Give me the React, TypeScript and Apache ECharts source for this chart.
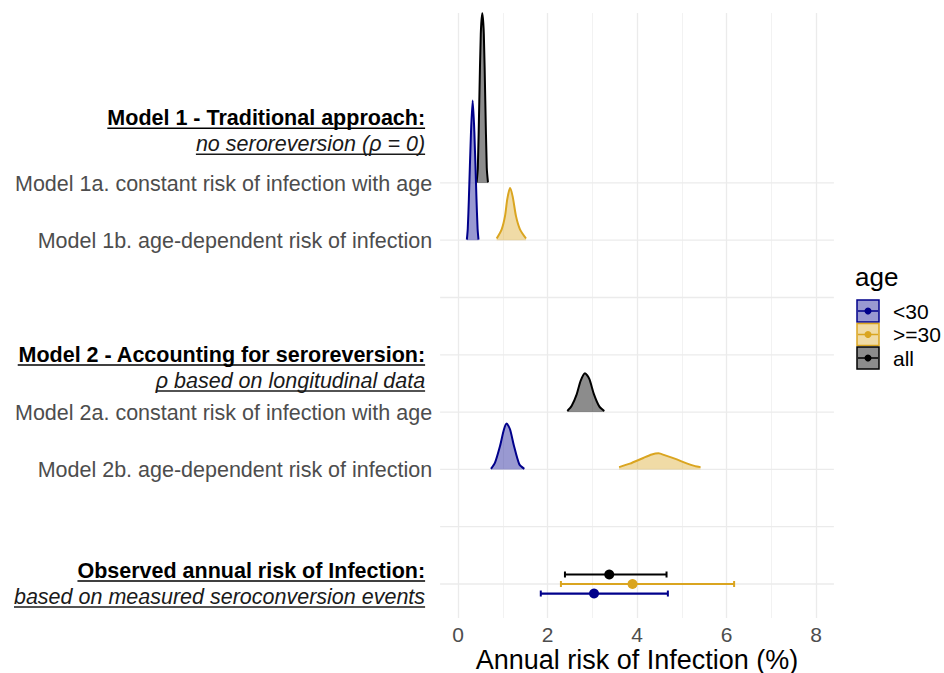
import React, { useEffect, useRef } from "react";
import * as echarts from "echarts";

const FONT = '"Liberation Sans", Arial, Helvetica, sans-serif';

// age groups (legend order)
const groups = ["<30", ">=30", "all"];
const groupStroke = ["#00008B", "#DAA520", "#000000"];
const groupFill = ["rgba(0,0,139,0.4)", "rgba(218,165,32,0.4)", "rgba(0,0,0,0.45)"];

// y categories (row 1 = bottom)
const gridRows = [1, 2, 3, 4, 5, 6, 7, 8];
const rowLabels = [
  "Model 1a. constant risk of infection with age",
  "Model 1b. age-dependent risk of infection",
  "Model 2a. constant risk of infection with age",
  "Model 2b. age-dependent risk of infection",
];
const rowPositions = [8, 7, 4, 3];

const headerTitles = [
  "Model 1 - Traditional approach:",
  "Model 2 - Accounting for seroreversion:",
  "Observed annual risk of Infection:",
];
const headerSubtitles = [
  "no seroreversion (\u03C1 = 0)",
  "\u03C1 based on longitudinal data",
  "based on measured seroconversion events",
];
const headerPositions = [8.9, 4.77, 1];

// posterior densities (x = annual risk %, h = ridge height in row units)
const m1aAllX = [0.416, 0.443, 0.476, 0.509, 0.543, 0.577, 0.61, 0.643, 0.67];
const m1aAllH = [0.01, 0.26, 1.43, 2.6, 2.96, 2.6, 1.43, 0.26, 0.01];

const m1bYoungX = [0.198, 0.218, 0.243, 0.29, 0.328, 0.366, 0.413, 0.438, 0.458];
const m1bYoungH = [0.01, 0.2, 0.72, 1.88, 2.44, 1.88, 0.72, 0.2, 0.01];

const m1bOldX = [0.865, 0.976, 1.05, 1.102, 1.162, 1.222, 1.296, 1.385, 1.52];
const m1bOldH = [0.03, 0.19, 0.42, 0.72, 0.91, 0.76, 0.42, 0.19, 0.03];

const m2aAllX = [2.443, 2.541, 2.652, 2.742, 2.838, 2.934, 3.039, 3.157, 3.269];
const m2aAllH = [0.02, 0.11, 0.31, 0.55, 0.68, 0.58, 0.31, 0.1, 0.02];

const m2bYoungX = [0.737, 0.827, 0.939, 1.028, 1.088, 1.162, 1.251, 1.37, 1.482];
const m2bYoungH = [0.01, 0.12, 0.41, 0.7, 0.8, 0.7, 0.41, 0.09, 0.01];

const m2bOldX = [3.6, 3.84, 4.14, 4.33, 4.48, 4.63, 4.89, 5.11, 5.3, 5.42];
const m2bOldH = [0.04, 0.1, 0.2, 0.26, 0.28, 0.245, 0.175, 0.105, 0.058, 0.04];

// observed annual risk (point estimate and interval), by group
const obsRow = 1;
const obsMid = [3.04, 3.9, 3.38];
const obsLow = [1.85, 2.3, 2.39];
const obsHigh = [4.69, 6.17, 4.66];

const densities = [
  { row: 8, g: 2, x: m1aAllX, h: m1aAllH },
  { row: 7, g: 0, x: m1bYoungX, h: m1bYoungH },
  { row: 7, g: 1, x: m1bOldX, h: m1bOldH },
  { row: 4, g: 2, x: m2aAllX, h: m2aAllH },
  { row: 3, g: 0, x: m2bYoungX, h: m2bYoungH },
  { row: 3, g: 1, x: m2bOldX, h: m2bOldH },
];

const X_LO = -0.4;
const X_HI = 8.4;
const DODGE = 0.166;

let measureCtx: CanvasRenderingContext2D | null = null;
function measure(text: string, font: string): number {
  if (!measureCtx) measureCtx = document.createElement("canvas").getContext("2d");
  if (!measureCtx) return text.length * 10;
  measureCtx.font = font;
  return measureCtx.measureText(text).width;
}

export default function App() {
  const ref = useRef<HTMLDivElement>(null);

  useEffect(() => {
    if (!ref.current) return;
    const chart = echarts.init(ref.current, undefined, { renderer: "svg" });

    const rowFont = `21.5px ${FONT}`;
    const boldFont = `bold 21.5px ${FONT}`;
    const italFont = `italic 21.5px ${FONT}`;

    const densitySeries = densities.map((d) => ({
      type: "line",
      data: d.x.map((v, i) => [v, d.row + d.h[i]]),
      symbol: "none",
      showSymbol: false,
      smooth: 0.25,
      lineStyle: { color: groupStroke[d.g], width: 2 },
      areaStyle: { color: groupFill[d.g], origin: d.row, opacity: 1 },
      z: 3,
      silent: true,
    }));

    const option: any = {
      animation: false,
      grid: { left: 458, right: 128, top: 13, bottom: 55, containLabel: false, outerBoundsMode: "none" },
      xAxis: {
        type: "value",
        min: 0,
        max: 8,
        interval: 2,
        axisLine: { show: false },
        axisTick: { show: false },
        splitLine: { show: true, lineStyle: { color: "#ebebeb", width: 1.3 } },
        minorTick: { show: false, splitNumber: 2 },
        minorSplitLine: { show: true, lineStyle: { color: "#efefef", width: 0.8 } },
        axisLabel: { color: "#4d4d4d", fontSize: 21, fontFamily: FONT, margin: 6 },
        name: "Annual risk of Infection (%)",
        nameLocation: "middle",
        nameGap: 28,
        nameMoveOverlap: false,
        nameTextStyle: { color: "#000", fontSize: 27, fontFamily: FONT },
      },
      yAxis: { type: "value", min: 0.407, max: 10.965, show: false },
      series: [
        {
          type: "custom",
          z: 1,
          clip: false,
          silent: true,
          data: gridRows.map((r) => [0, r]),
          encode: { x: 0, y: 1 },
          renderItem: (_p: any, api: any) => {
            const y = api.value(1);
            const a = api.coord([X_LO, y]);
            const b = api.coord([X_HI, y]);
            return {
              type: "line",
              shape: { x1: a[0], y1: a[1], x2: b[0], y2: b[1] },
              style: { stroke: "#ebebeb", lineWidth: 1.3 },
            };
          },
        },
        ...densitySeries,
        {
          type: "custom",
          z: 4,
          clip: false,
          silent: true,
          data: groups.map((_, i) => [obsLow[i], obsHigh[i], obsMid[i], i]),
          encode: { x: [0, 1, 2] },
          renderItem: (_p: any, api: any) => {
            const i = api.value(3);
            const y = obsRow + (i - 1) * DODGE;
            const a = api.coord([api.value(0), y]);
            const b = api.coord([api.value(1), y]);
            const m = api.coord([api.value(2), y]);
            const c = groupStroke[i];
            return {
              type: "group",
              children: [
                { type: "line", shape: { x1: a[0], y1: a[1], x2: b[0], y2: b[1] }, style: { stroke: c, lineWidth: 2.2 } },
                { type: "line", shape: { x1: a[0], y1: a[1] - 3, x2: a[0], y2: a[1] + 3 }, style: { stroke: c, lineWidth: 2 } },
                { type: "line", shape: { x1: b[0], y1: b[1] - 3, x2: b[0], y2: b[1] + 3 }, style: { stroke: c, lineWidth: 2 } },
                { type: "circle", shape: { cx: m[0], cy: m[1], r: 5 }, style: { fill: c } },
              ],
            };
          },
        },
        {
          type: "custom",
          z: 5,
          clip: false,
          silent: true,
          data: rowPositions.map((r, i) => [0, r, i]),
          encode: { x: 0, y: 1 },
          renderItem: (_p: any, api: any) => {
            const i = api.value(2);
            const p = api.coord([X_LO, api.value(1)]);
            return {
              type: "text",
              x: p[0] - 8,
              y: p[1] + 1,
              style: { text: rowLabels[i], font: rowFont, fill: "#4d4d4d", align: "right", verticalAlign: "middle" },
            };
          },
        },
        {
          type: "custom",
          z: 5,
          clip: false,
          silent: true,
          data: headerPositions.map((r, i) => [0, r, i]),
          encode: { x: 0, y: 1 },
          renderItem: (_p: any, api: any) => {
            const i = api.value(2);
            const p = api.coord([X_LO, api.value(1)]);
            const right = p[0] - 15;
            const y1 = p[1] - 13;
            const y2 = p[1] + 13;
            const w1 = measure(headerTitles[i], boldFont);
            const w2 = measure(headerSubtitles[i], italFont);
            return {
              type: "group",
              children: [
                { type: "text", x: right, y: y1, style: { text: headerTitles[i], font: boldFont, fill: "#000", align: "right", verticalAlign: "middle" } },
                { type: "line", shape: { x1: right - w1, y1: y1 + 10, x2: right, y2: y1 + 10 }, style: { stroke: "#000", lineWidth: 1.5 } },
                { type: "text", x: right, y: y2, style: { text: headerSubtitles[i], font: italFont, fill: "#1a1a1a", align: "right", verticalAlign: "middle" } },
                { type: "line", shape: { x1: right - w2, y1: y2 + 10, x2: right, y2: y2 + 10 }, style: { stroke: "#1a1a1a", lineWidth: 1.5 } },
              ],
            };
          },
        },
      ],
      graphic: [
        { type: "text", x: 855, y: 277, style: { text: "age", font: `26px ${FONT}`, fill: "#000", verticalAlign: "middle" } },
        ...groups.map((g, i) => ({
          type: "group",
          x: 857,
          y: 300 + i * 23.5,
          children: [
            { type: "rect", shape: { x: 0, y: 0, width: 22, height: 22 }, style: { fill: groupFill[i], stroke: groupStroke[i], lineWidth: 1.5 } },
            { type: "line", shape: { x1: 1, y1: 11, x2: 21, y2: 11 }, style: { stroke: groupStroke[i], lineWidth: 1.5 } },
            { type: "circle", shape: { cx: 11, cy: 11, r: 3.5 }, style: { fill: groupStroke[i] } },
            { type: "text", x: 36, y: 11, style: { text: g, font: `21px ${FONT}`, fill: "#000", verticalAlign: "middle" } },
          ],
        })),
      ],
    };

    chart.setOption(option);
    return () => chart.dispose();
  }, []);

  return (
    <div
      ref={ref}
      style={{ position: "absolute", left: 0, top: 0, width: 944, height: 673, background: "#fff" }}
    />
  );
}
